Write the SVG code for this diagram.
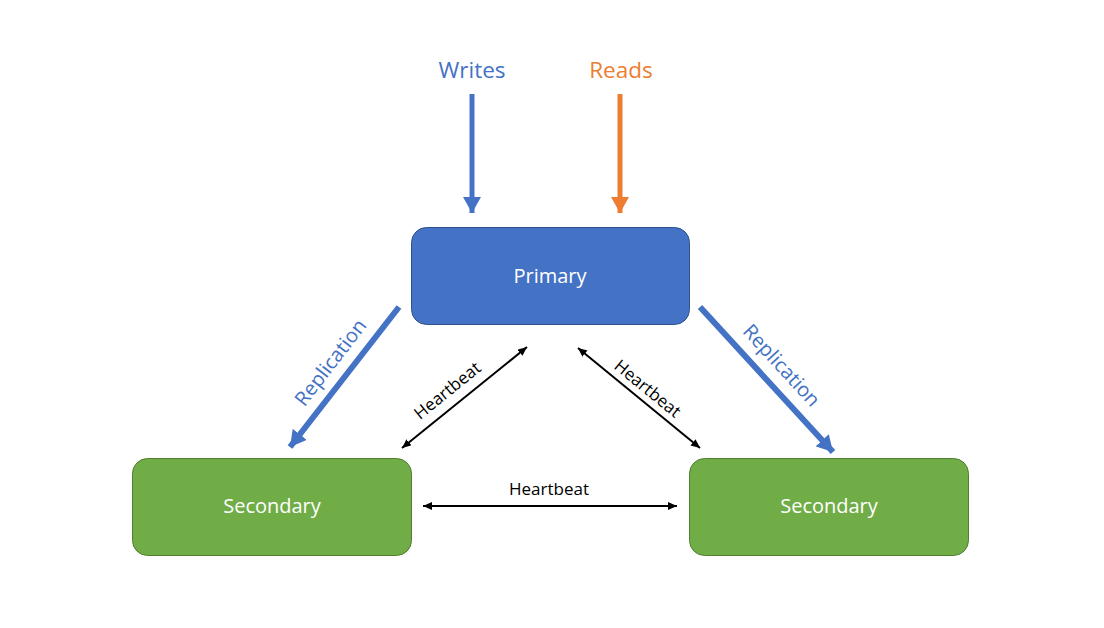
<svg xmlns="http://www.w3.org/2000/svg" width="1104" height="628" viewBox="0 0 1104 628">
<style>
text{font-family:"Open Sans","Noto Sans","Liberation Sans",sans-serif}
.node-label{fill:#fff;font-size:20px;text-anchor:middle}
.primary{fill:#4472C4;stroke:#2F528F;stroke-width:1}
.secondary{fill:#70AD47;stroke:#507E32;stroke-width:1}
.blue{stroke:#4472C4;fill:none}
.orange{stroke:#ED7D31;fill:none}
.hb{stroke:#000;stroke-width:2;fill:none}
.hbl{fill:#000;font-size:17px;text-anchor:middle}
.rep{fill:#4472C4;font-size:20px;text-anchor:middle}
</style>
<defs>
<marker id="ahBlue" markerUnits="userSpaceOnUse" markerWidth="18" markerHeight="18" refX="16" refY="9" orient="auto"><path d="M0,0 L16,9 L0,18 Z" fill="#4472C4"/></marker>
<marker id="ahOrange" markerUnits="userSpaceOnUse" markerWidth="18" markerHeight="18" refX="16" refY="9" orient="auto"><path d="M0,0 L16,9 L0,18 Z" fill="#ED7D31"/></marker>
<marker id="ahBlack" markerUnits="userSpaceOnUse" markerWidth="10" markerHeight="10" refX="9" refY="4" orient="auto-start-reverse"><path d="M0,0 L9,4 L0,8 Z" fill="#000"/></marker>
</defs>
<rect width="1104" height="628" fill="#fff"/>
<g id="connectors">
<line class="blue" x1="472" y1="94" x2="472" y2="213" stroke-width="5" marker-end="url(#ahBlue)"/>
<line class="orange" x1="620" y1="94" x2="620" y2="213" stroke-width="5" marker-end="url(#ahOrange)"/>
<line class="blue" x1="399" y1="307" x2="290" y2="447" stroke-width="6" marker-end="url(#ahBlue)"/>
<line class="blue" x1="700" y1="307" x2="833" y2="452" stroke-width="6" marker-end="url(#ahBlue)"/>
<line class="hb" x1="527" y1="347" x2="402" y2="448" marker-start="url(#ahBlack)" marker-end="url(#ahBlack)"/>
<line class="hb" x1="578" y1="348" x2="700" y2="448" marker-start="url(#ahBlack)" marker-end="url(#ahBlack)"/>
<line class="hb" x1="423" y1="506" x2="677" y2="506" stroke-width="2.5" marker-start="url(#ahBlack)" marker-end="url(#ahBlack)"/>
<text x="472" y="78" font-size="22.5" fill="#4472C4" text-anchor="middle">Writes</text>
<text x="621" y="78" font-size="22.5" fill="#ED7D31" text-anchor="middle">Reads</text>
<text class="rep" dominant-baseline="central" transform="translate(330,362) rotate(-52.4)">Replication</text>
<text class="rep" dominant-baseline="central" transform="translate(782,365) rotate(47.5)">Replication</text>
<text class="hbl" dominant-baseline="central" transform="translate(447,390) rotate(-39)">Heartbeat</text>
<text class="hbl" dominant-baseline="central" transform="translate(648,388) rotate(39.3)">Heartbeat</text>
<text class="hbl" x="549" y="495">Heartbeat</text>
</g>
<g id="primary">
<rect class="primary" x="411.5" y="227.5" width="278" height="97" rx="15"/>
<text class="node-label" x="550" y="283">Primary</text>
</g>
<g id="secondary-left">
<rect class="secondary" x="132.5" y="458.5" width="279" height="97" rx="15"/>
<text class="node-label" x="272" y="513">Secondary</text>
</g>
<g id="secondary-right">
<rect class="secondary" x="689.5" y="458.5" width="279" height="97" rx="15"/>
<text class="node-label" x="829" y="513">Secondary</text>
</g>
</svg>
